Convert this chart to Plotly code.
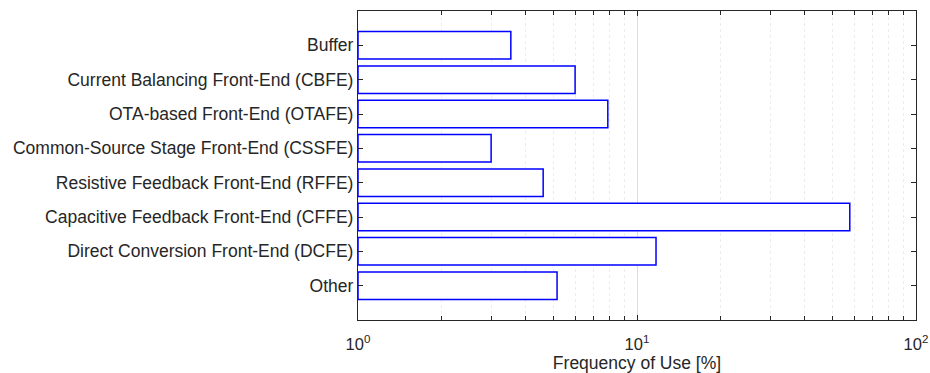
import plotly.graph_objects as go

categories = [
    "Buffer",
    "Current Balancing Front-End (CBFE)",
    "OTA-based Front-End (OTAFE)",
    "Common-Source Stage Front-End (CSSFE)",
    "Resistive Feedback Front-End (RFFE)",
    "Capacitive Feedback Front-End (CFFE)",
    "Direct Conversion Front-End (DCFE)",
    "Other",
]
values = [3.53, 6.0, 7.86, 3.0, 4.61, 57.9, 11.7, 5.17]

major_ticks = [1, 10, 100]
major_text = ["10<sup>0</sup>", "10<sup>1</sup>", "10<sup>2</sup>"]
minor_ticks = [2, 3, 4, 5, 6, 7, 8, 9, 20, 30, 40, 50, 60, 70, 80, 90]

base_val = 1
fig = go.Figure()
fig.add_trace(go.Bar(
    y=categories,
    x=[v - base_val for v in values],
    base=[base_val] * len(values),
    orientation="h",
    width=0.8,
    marker=dict(color="white", line=dict(color="#0000FF", width=1.5)),
    hoverinfo="skip",
))

txt = "#262626"
fig.update_layout(
    width=930, height=373,
    margin=dict(l=358, r=14, t=11, b=53),
    paper_bgcolor="white", plot_bgcolor="white",
    font=dict(family="Liberation Sans, Arial, sans-serif", size=17.5, color=txt),
    showlegend=False,
    xaxis=dict(
        type="log", range=[0, 2], automargin=False,
        tickmode="array", tickvals=major_ticks, ticktext=major_text,
        ticks="inside", ticklen=5, tickwidth=1, tickcolor=txt,
        ticklabelstandoff=9,
        showline=True, linecolor=txt, linewidth=1.2, mirror="ticks",
        showgrid=True, gridcolor="#dcdcdc", gridwidth=1,
        zeroline=False,
        minor=dict(tickmode="array", tickvals=minor_ticks, ticks="inside", ticklen=4,
                   tickcolor=txt, showgrid=True, gridcolor="#ececec", griddash="dot"),
        title=dict(text="Frequency of Use [%]", standoff=4, font=dict(size=17.5)),
        tickfont=dict(size=16.5),
    ),
    yaxis=dict(
        categoryorder="array", categoryarray=categories, automargin=False,
        autorange=False, range=[7 + 1, -1],
        ticks="inside", ticklen=5, tickcolor=txt,
        showline=True, linecolor=txt, linewidth=1.2, mirror="ticks",
        showgrid=False, zeroline=False,
        tickfont=dict(size=17.5),
    ),
)

fig.write_html("out.html")
